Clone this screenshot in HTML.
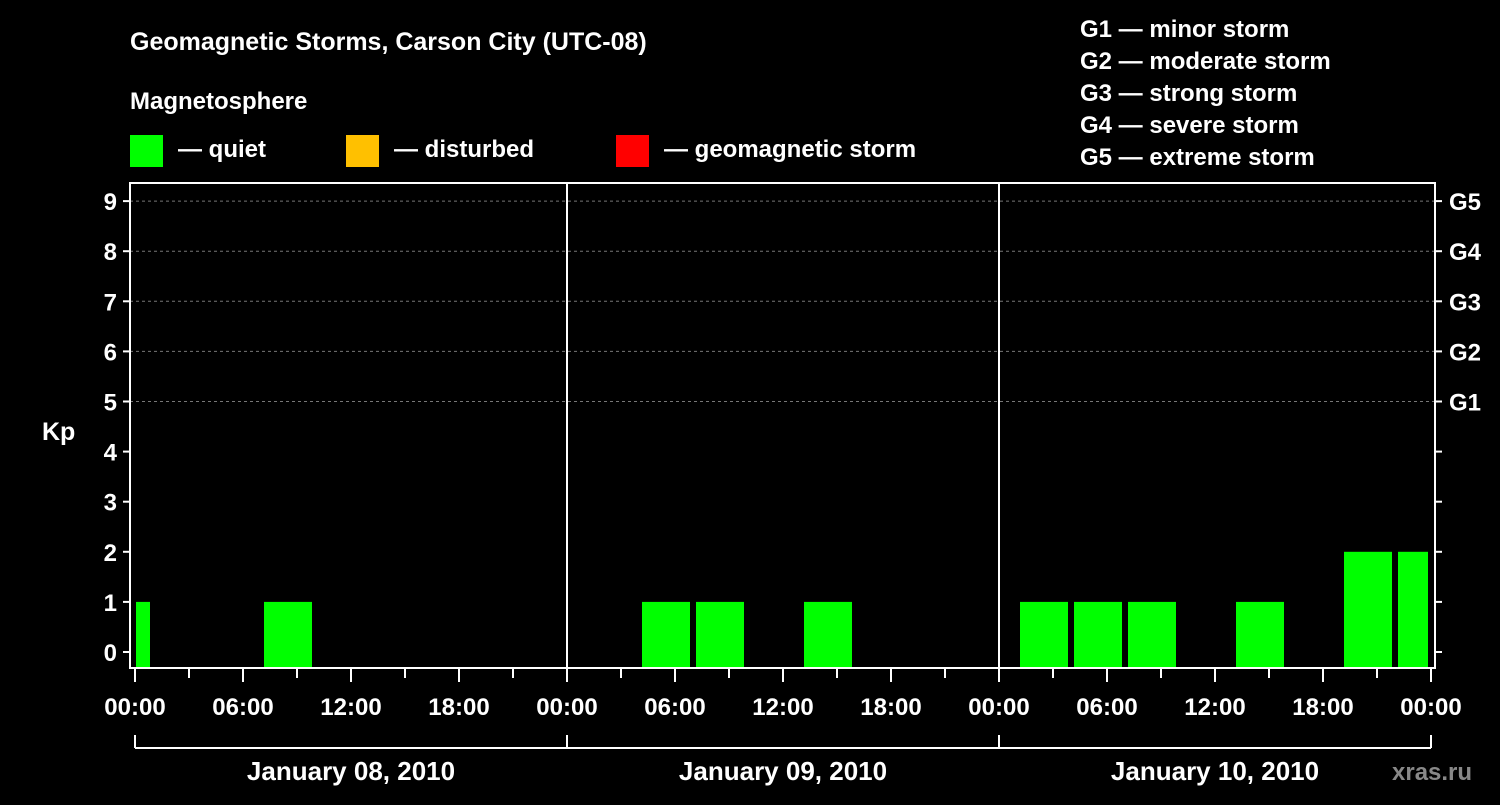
<!DOCTYPE html>
<html><head><meta charset="utf-8"><style>
body{margin:0;background:#000;}
svg text{font-family:"Liberation Sans",Arial,sans-serif;font-weight:bold;fill:#fff;}
</style></head><body>
<svg width="1500" height="800" viewBox="0 0 1500 800">
<rect width="1500" height="800" fill="#000"/>
<text x="130" y="50" font-size="25">Geomagnetic Storms, Carson City (UTC-08)</text>
<text x="130" y="109" font-size="24">Magnetosphere</text>
<g><rect x="130" y="135" width="33" height="32" fill="#00ff00"/><text x="178" y="157" font-size="24">— quiet</text></g>
<g><rect x="346" y="135" width="33" height="32" fill="#ffc000"/><text x="394" y="157" font-size="24">— disturbed</text></g>
<g><rect x="616" y="135" width="33" height="32" fill="#ff0000"/><text x="664" y="157" font-size="24">— geomagnetic storm</text></g>
<g font-size="24">
<text x="1080" y="37">G1 — minor storm</text>
<text x="1080" y="69">G2 — moderate storm</text>
<text x="1080" y="101">G3 — strong storm</text>
<text x="1080" y="133">G4 — severe storm</text>
<text x="1080" y="165">G5 — extreme storm</text>
</g>
<text x="42" y="440" font-size="25">Kp</text>
<g id="plot"></g>
<text x="1392" y="780" font-size="24" fill="#888" style="fill:#888">xras.ru</text>
</svg>
<script>
const slotStartHours = [-2,1,4,7,10,13,16,19,22,25,28,31,34,37,40,43,46,49,52,55,58,61,64,67,70];
const kpValues = [1,0,0,1,0,0,0,0,0,0,1,1,0,1,0,0,0,1,1,1,0,1,0,2,2];
const yTicks = [0,1,2,3,4,5,6,7,8,9];
const gLabels = ["G1","G2","G3","G4","G5"];
const xTickLabels = ["00:00","06:00","12:00","18:00","00:00","06:00","12:00","18:00","00:00","06:00","12:00","18:00","00:00"];
const dayLabels = ["January 08, 2010","January 09, 2010","January 10, 2010"];

const NS="http://www.w3.org/2000/svg";
const g=document.getElementById('plot');
const X0=135, PX_H=18, TOTAL=72, Y0=652, PX_K=50.1;
const L=130,R=1435,T=183,B=668;
const xs=h=>X0+h*PX_H, ys=v=>Y0-v*PX_K;
function el(tag,attrs){const e=document.createElementNS(NS,tag);for(const k in attrs)e.setAttribute(k,attrs[k]);g.appendChild(e);return e;}

// grid
yTicks.forEach(v=>{ if(v>=5){const e=el('line',{x1:L,x2:R,y1:ys(v),y2:ys(v),stroke:'#777','stroke-dasharray':'3,3'});

}});
// bars
slotStartHours.forEach((h,i)=>{const v=kpValues[i]; if(v<=0)return;
 let a=Math.max(0,h), b=Math.min(TOTAL,h+3);
 let x1=xs(a)+(h>=0?3:1), x2=xs(b)-3;
 const c=v>=5?'#ff0000':(v>=4?'#ffc000':'#00ff00');
 const r=el('rect',{x:x1,y:ys(v),width:x2-x1,height:B-ys(v)-1,fill:c});
 
 
});
// frame
const fr=el('rect',{x:L,y:T,width:R-L,height:B-T,fill:'none',stroke:'#fff','stroke-width':2});


[24,48].forEach(h=>{const e=el('line',{x1:xs(h),x2:xs(h),y1:T,y2:B,stroke:'#fff','stroke-width':2});

});
// y ticks
yTicks.forEach(v=>{
 el('line',{x1:L-7,x2:L,y1:ys(v),y2:ys(v),stroke:'#fff','stroke-width':2});
 el('line',{x1:R,x2:R+7,y1:ys(v),y2:ys(v),stroke:'#fff','stroke-width':2});
 const t=el('text',{x:117,y:ys(v)+9,'font-size':24,'text-anchor':'end'});t.textContent=v;
 
 
});
gLabels.forEach((s,i)=>{const t=el('text',{x:1449,y:ys(5+i)+9,'font-size':24});t.textContent=s;
 
 });
// x ticks
for(let h=0;h<=TOTAL;h+=3){el('line',{x1:xs(h),x2:xs(h),y1:B,y2:B+(h%6==0?14:10),stroke:'#fff','stroke-width':2});}
xTickLabels.forEach((s,i)=>{const t=el('text',{x:xs(i*6),y:715,'font-size':24,'text-anchor':'middle'});t.textContent=s;
 
 });
// day brackets
el('line',{x1:xs(0),x2:xs(TOTAL),y1:748,y2:748,stroke:'#fff','stroke-width':2});
for(let d=0;d<=3;d++)el('line',{x1:xs(d*24),x2:xs(d*24),y1:735,y2:748,stroke:'#fff','stroke-width':2});
dayLabels.forEach((s,i)=>{const t=el('text',{x:xs(i*24+12),y:780,'font-size':26,'text-anchor':'middle'});t.textContent=s;
 
 });
</script>
</body></html>
